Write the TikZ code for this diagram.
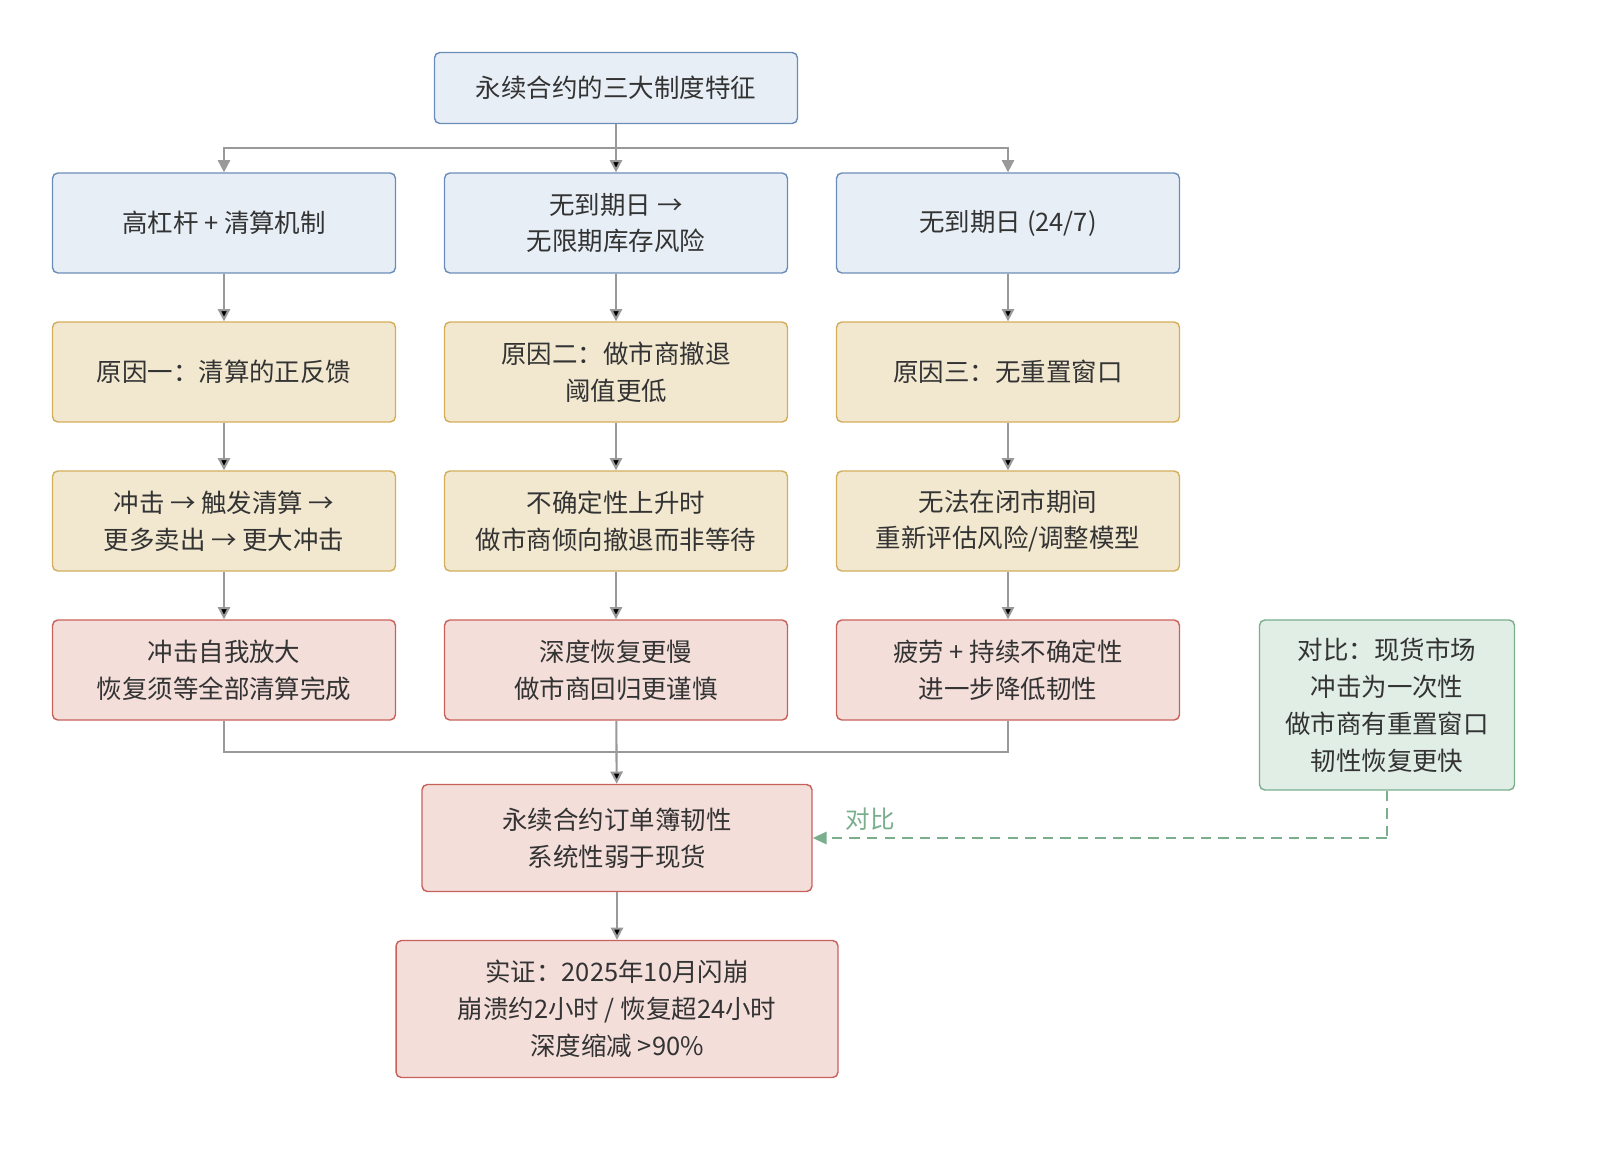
\documentclass[tikz,border=0pt]{standalone}
\usepackage{fontspec}
\setmainfont{Noto Sans CJK SC}
\usetikzlibrary{arrows.meta}
\definecolor{bluefill}{HTML}{E7EEF6}
\definecolor{blueline}{HTML}{6B8DB9}
\definecolor{yelfill}{HTML}{F2E8D0}
\definecolor{yelline}{HTML}{D2AE5A}
\definecolor{redfill}{HTML}{F3DEDA}
\definecolor{redline}{HTML}{C9615B}
\definecolor{grnfill}{HTML}{E1EEE6}
\definecolor{grnline}{HTML}{7AAE8D}
\definecolor{wire}{HTML}{999999}
\definecolor{ink}{HTML}{333333}
\begin{document}
\begin{tikzpicture}[x=0.02cm,y=-0.02cm,->,>={Triangle[length=7pt,width=7pt]},thick,
  font=\fontsize{14.5}{21}\selectfont,text=ink,
  box/.style={rectangle,rounded corners=3pt,draw,align=center,minimum width=6.86cm,minimum height=2cm},
  blue node/.style={box,fill=bluefill,draw=blueline},
  yel node/.style={box,fill=yelfill,draw=yelline},
  red node/.style={box,fill=redfill,draw=redline},
  green node/.style={box,fill=grnfill,draw=grnline,minimum width=5.1cm,minimum height=3.4cm},
  line/.style={draw=wire,line width=1.2pt}]

  \useasboundingbox (0,0) rectangle (1600,1157);

  \node[blue node,minimum width=7.26cm,minimum height=1.42cm] (top) at (616,88) {永续合约的三大制度特征};

  \node[blue node] (a1) at (224,223) {高杠杆 + 清算机制};
  \node[blue node] (a2) at (616,223) {无到期日 →\\无限期库存风险};
  \node[blue node] (a3) at (1008,223) {无到期日 (24/7)};

  \node[yel node] (b1) at (224,372) {原因一：清算的正反馈};
  \node[yel node] (b2) at (616,372) {原因二：做市商撤退\\阈值更低};
  \node[yel node] (b3) at (1008,372) {原因三：无重置窗口};

  \node[yel node] (c1) at (224,521) {冲击 → 触发清算 →\\更多卖出 → 更大冲击};
  \node[yel node] (c2) at (616,521) {不确定性上升时\\做市商倾向撤退而非等待};
  \node[yel node] (c3) at (1008,521) {无法在闭市期间\\重新评估风险/调整模型};

  \node[red node] (d1) at (224,670) {冲击自我放大\\恢复须等全部清算完成};
  \node[red node] (d2) at (616,670) {深度恢复更慢\\做市商回归更谨慎};
  \node[red node] (d3) at (1008,670) {疲劳 + 持续不确定性\\进一步降低韧性};

  \node[green node] (spot) at (1387,705) {对比：现货市场\\冲击为一次性\\做市商有重置窗口\\韧性恢复更快};

  \node[red node,minimum width=7.8cm,minimum height=2.14cm] (merge) at (617,838) {永续合约订单簿韧性\\系统性弱于现货};
  \node[red node,minimum width=8.84cm,minimum height=2.74cm] (proof) at (617,1009) {实证：2025年10月闪崩\\崩溃约2小时 / 恢复超24小时\\深度缩减 >90\%};

  \coordinate (split) at (616,148);
  \coordinate (join) at (616,752);
  \coordinate (bend) at (1387,838);

  \path[line]
    (top) edge (a2)
    (a1) edge (b1) (a2) edge (b2) (a3) edge (b3)
    (b1) edge (c1) (b2) edge (c2) (b3) edge (c3)
    (c1) edge (d1) (c2) edge (d2) (c3) edge (d3)
    (d2) edge (merge)
    (merge) edge (proof);
  \draw[line,-] (top) -- (split);
  \draw[line] (split) -| (a1);
  \draw[line] (split) -| (a3);
  \draw[line,-] (d1) |- (join);
  \draw[line,-] (d3) |- (join);

  \draw[draw=grnline,line width=1.4pt,dash pattern=on 6pt off 4pt,-] (spot) -- (bend);
  \draw[draw=grnline,line width=1.4pt,dash pattern=on 6pt off 4pt,>={Triangle[length=8pt,width=7pt,fill=grnline]}] (bend) -- (merge.east)
    node[pos=0.9,above,text=grnline,font=\fontsize{14}{16}\selectfont] {对比};
\end{tikzpicture}
\end{document}
